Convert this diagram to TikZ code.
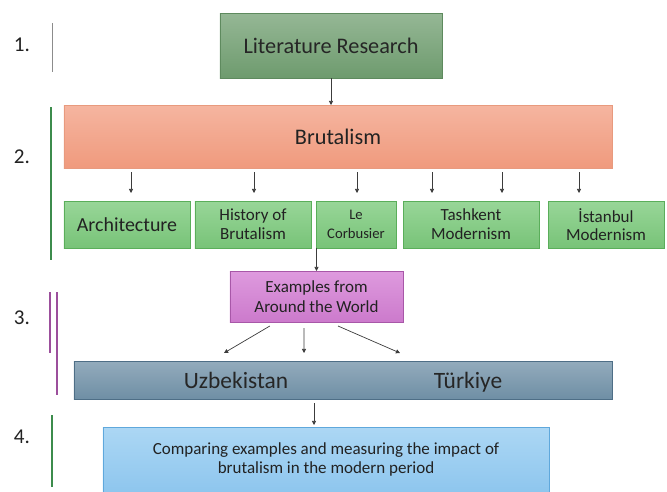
\documentclass[tikz,border=0pt]{standalone}
\usepackage{fontspec}
\setmainfont{Carlito}
\usepackage{xcolor}
\usetikzlibrary{arrows.meta}

\definecolor{txtgray}{HTML}{222222}
\definecolor{arrgray}{HTML}{3C3C3C}
\definecolor{litborder}{HTML}{5E8A5E}
\definecolor{littop}{HTML}{95B795}
\definecolor{litbot}{HTML}{6E9B6E}
\definecolor{brutborder}{HTML}{E89A7E}
\definecolor{bruttop}{HTML}{F5B5A0}
\definecolor{brutbot}{HTML}{F09A7D}
\definecolor{topicborder}{HTML}{5AAE5A}
\definecolor{topictop}{HTML}{98D698}
\definecolor{topicbot}{HTML}{78C378}
\definecolor{examborder}{HTML}{A857A8}
\definecolor{examtop}{HTML}{DE9ADE}
\definecolor{exambot}{HTML}{CC7ACC}
\definecolor{ctryborder}{HTML}{4E6E86}
\definecolor{ctrytop}{HTML}{93ABBC}
\definecolor{ctrybot}{HTML}{6F8FA5}
\definecolor{compborder}{HTML}{5FA8DC}
\definecolor{comptop}{HTML}{ACD7F4}
\definecolor{compbot}{HTML}{8EC6EE}
\definecolor{bargray}{HTML}{8C8C8C}
\definecolor{bargreen}{HTML}{3C8C4C}
\definecolor{barpurple}{HTML}{9C4F9C}

\begin{document}
\begin{tikzpicture}[x=0.03cm, y=-0.03cm,
    every node/.style={align=center, text=txtgray, inner sep=0pt, outer sep=0pt},
    flowbox/.style={draw, line width=0.8pt},
    topic/.style={flowbox, draw=topicborder, top color=topictop, bottom color=topicbot, minimum height=1.41cm, font=\fontsize{14.5}{16}\selectfont},
    arr/.style={draw=arrgray, line width=0.6pt, -{Triangle[length=3.5pt,width=3.5pt]}},
    bar/.style={line width=1.6pt}]
    \useasboundingbox (0,0) rectangle (667,491);

    % Step numbers
    \node[font=\fontsize{18}{20}\selectfont] (num1) at (22,45) {1.};
    \node[font=\fontsize{18}{20}\selectfont] (num2) at (22,157) {2.};
    \node[font=\fontsize{18}{20}\selectfont] (num3) at (22,318) {3.};
    \node[font=\fontsize{18}{20}\selectfont] (num4) at (22,437) {4.};
    \draw[line width=0.8pt, draw=bargray] (52,23) -- (52,72);
    \draw[bar, draw=bargreen] (51,107) -- (51,260);
    \draw[bar, draw=barpurple] (50,292) -- (50,353);
    \draw[bar, draw=barpurple] (57,292) -- (57,395);
    \draw[bar, draw=bargreen] (52,415) -- (52,487);

    % Boxes
    \node[flowbox, draw=litborder, top color=littop, bottom color=litbot, minimum width=6.66cm, minimum height=1.95cm, font=\fontsize{19}{21}\selectfont, text=black!85] (lit) at (331,45.5) {Literature Research};
    \node[flowbox, draw=brutborder, top color=bruttop, bottom color=brutbot, minimum width=16.44cm, minimum height=1.89cm, font=\fontsize{19}{21}\selectfont] (brut) at (338,136.5) {Brutalism};
    \node[topic, minimum width=3.78cm, font=\fontsize{17}{19}\selectfont] (arch) at (127,224.5) {Architecture};
    \node[topic, minimum width=3.48cm] (hist) at (253,224.5) {History of\\Brutalism};
    \node[topic, minimum width=2.4cm, font=\fontsize{12.5}{16}\selectfont] (corb) at (356,224.5) {Le\\Corbusier};
    \node[topic, minimum width=4.08cm] (tash) at (471,224.5) {Tashkent\\Modernism};
    \node[topic, minimum width=3.48cm] (ist) at (606,224.5) {İstanbul\\Modernism};
    \node[flowbox, draw=examborder, top color=examtop, bottom color=exambot, minimum width=5.19cm, minimum height=1.53cm, font=\fontsize{14.5}{17}\selectfont] (exam) at (316.5,296.5) {Examples from\\Around the World};
    \node[flowbox, draw=ctryborder, top color=ctrytop, bottom color=ctrybot, minimum width=16.14cm, minimum height=1.14cm] (ctry) at (343,380) {};
    \node[anchor=base, font=\fontsize{20}{22}\selectfont, text=black!85] (uzb) at (236,388) {Uzbekistan};
    \node[anchor=base, font=\fontsize{20}{22}\selectfont, text=black!85] (tur) at (468,388) {Türkiye};
    \node[flowbox, draw=compborder, top color=comptop, bottom color=compbot, minimum width=13.38cm, minimum height=1.95cm, font=\fontsize{14.5}{17}\selectfont] (comp) at (326,459.5) {Comparing examples and measuring the impact of\\brutalism in the modern period};

    % Arrows
    \draw[arr] (lit.south) -- (lit.south |- brut.north);
    \foreach \x in {131,254,357,432,502,579}
        \draw[arr] ([yshift=-0.12cm]brut.south -| \x,0) -- ([yshift=0.24cm]arch.north -| \x,0);
    \draw[arr] (exam.north |- corb.south) -- (exam.north);
    \draw[arr] ([xshift=-1.4cm,yshift=-0.12cm]exam.south) -- ([xshift=-3.57cm,yshift=0.24cm]ctry.north);
    \draw[arr] ([xshift=-0.375cm,yshift=-0.18cm]exam.south) -- ([xshift=-1.17cm,yshift=0.24cm]ctry.north);
    \draw[arr] ([xshift=0.645cm,yshift=-0.12cm]exam.south) -- ([xshift=1.71cm,yshift=0.24cm]ctry.north);
    \draw[arr] ([xshift=-0.36cm,yshift=-0.12cm]ctry.south -| comp.north) -- ([xshift=-0.36cm,yshift=0.06cm]comp.north);

\end{tikzpicture}
\end{document}
